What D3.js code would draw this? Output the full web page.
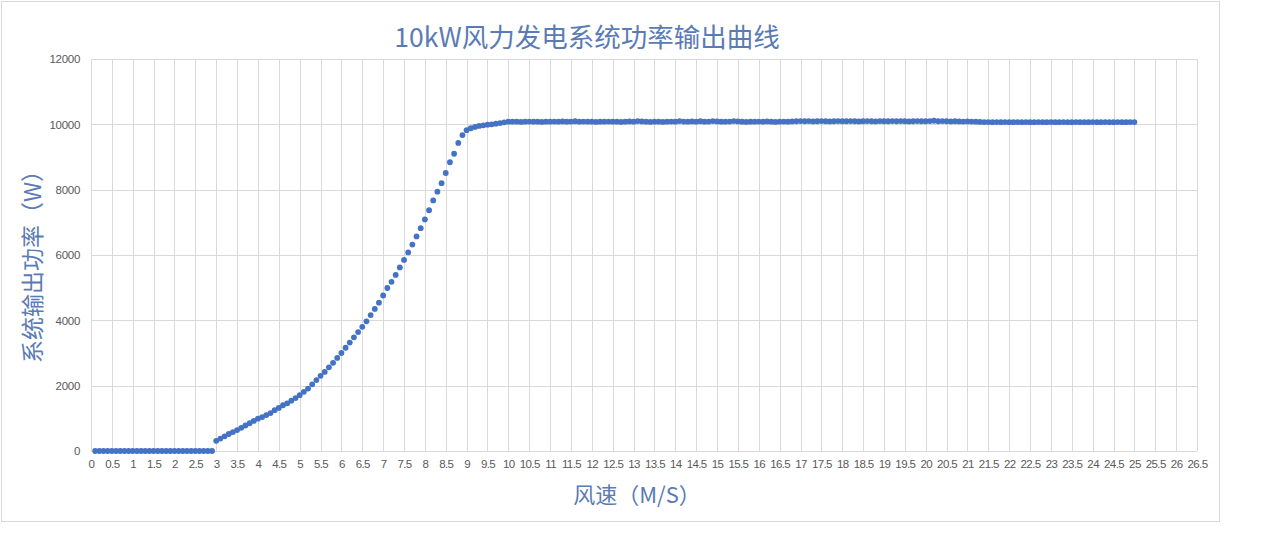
<!DOCTYPE html>
<html><head><meta charset="utf-8">
<script src="https://cdn.jsdelivr.net/npm/d3@7"></script>
<style>
html,body{margin:0;padding:0;background:#fff;}
svg{display:block;}
</style></head>
<body>
<svg id="chart" width="1267" height="551"></svg>
<script>
const titleText = "10kW风力发电系统功率输出曲线";
const xAxisTitle = "风速（M/S）";
const yAxisTitle = "系统输出功率（W）";

const windSpeed = [
0.1,0.2,0.3,0.4,0.5,0.6,0.7,0.8,0.9,1.0,
1.1,1.2,1.3,1.4,1.5,1.6,1.7,1.8,1.9,2.0,
2.1,2.2,2.3,2.4,2.5,2.6,2.7,2.8,2.9,3.0,
3.1,3.2,3.3,3.4,3.5,3.6,3.7,3.8,3.9,4.0,
4.1,4.2,4.3,4.4,4.5,4.6,4.7,4.8,4.9,5.0,
5.1,5.2,5.3,5.4,5.5,5.6,5.7,5.8,5.9,6.0,
6.1,6.2,6.3,6.4,6.5,6.6,6.7,6.8,6.9,7.0,
7.1,7.2,7.3,7.4,7.5,7.6,7.7,7.8,7.9,8.0,
8.1,8.2,8.3,8.4,8.5,8.6,8.7,8.8,8.9,9.0,
9.1,9.2,9.3,9.4,9.5,9.6,9.7,9.8,9.9,10.0,
10.1,10.2,10.3,10.4,10.5,10.6,10.7,10.8,10.9,11.0,
11.1,11.2,11.3,11.4,11.5,11.6,11.7,11.8,11.9,12.0,
12.1,12.2,12.3,12.4,12.5,12.6,12.7,12.8,12.9,13.0,
13.1,13.2,13.3,13.4,13.5,13.6,13.7,13.8,13.9,14.0,
14.1,14.2,14.3,14.4,14.5,14.6,14.7,14.8,14.9,15.0,
15.1,15.2,15.3,15.4,15.5,15.6,15.7,15.8,15.9,16.0,
16.1,16.2,16.3,16.4,16.5,16.6,16.7,16.8,16.9,17.0,
17.1,17.2,17.3,17.4,17.5,17.6,17.7,17.8,17.9,18.0,
18.1,18.2,18.3,18.4,18.5,18.6,18.7,18.8,18.9,19.0,
19.1,19.2,19.3,19.4,19.5,19.6,19.7,19.8,19.9,20.0,
20.1,20.2,20.3,20.4,20.5,20.6,20.7,20.8,20.9,21.0,
21.1,21.2,21.3,21.4,21.5,21.6,21.7,21.8,21.9,22.0,
22.1,22.2,22.3,22.4,22.5,22.6,22.7,22.8,22.9,23.0,
23.1,23.2,23.3,23.4,23.5,23.6,23.7,23.8,23.9,24.0,
24.1,24.2,24.3,24.4,24.5,24.6,24.7,24.8,24.9,25.0
];

const power = [
0,0,0,0,0,0,0,0,0,0,
0,0,0,0,0,0,0,0,0,0,
0,0,0,0,0,0,0,0,0,310,
380,450,520,580,640,710,780,850,920,990,
1040,1100,1160,1250,1320,1400,1460,1540,1620,1710,
1810,1910,2040,2170,2300,2420,2560,2700,2850,3000,
3160,3320,3480,3640,3800,3970,4160,4350,4540,4760,
4990,5180,5390,5620,5850,6080,6320,6570,6820,7090,
7370,7670,7940,8200,8510,8840,9100,9430,9670,9820,
9880,9920,9950,9970,9990,10000,10020,10040,10060,10080,
10080,10080,10075,10080,10085,10080,10080,10075,10080,10080,
10085,10080,10090,10080,10085,10095,10080,10085,10080,10080,
10075,10080,10080,10085,10080,10080,10075,10080,10090,10080,
10100,10090,10080,10075,10080,10080,10075,10080,10085,10080,
10100,10085,10080,10090,10080,10095,10080,10085,10100,10090,
10080,10080,10085,10100,10090,10080,10075,10080,10080,10085,
10080,10090,10080,10075,10080,10085,10080,10090,10095,10100,
10095,10100,10090,10095,10100,10095,10090,10095,10100,10095,
10095,10100,10095,10090,10095,10100,10095,10090,10100,10095,
10095,10100,10095,10100,10095,10090,10095,10100,10095,10095,
10100,10110,10095,10100,10095,10090,10095,10090,10085,10090,
10085,10080,10075,10070,10070,10065,10070,10065,10070,10065,
10065,10070,10065,10070,10065,10065,10070,10065,10065,10070,
10065,10065,10070,10065,10065,10070,10065,10065,10065,10070,
10065,10065,10070,10065,10065,10070,10065,10065,10070,10070
];

const xTicks = [0,0.5,1,1.5,2,2.5,3,3.5,4,4.5,5,5.5,6,6.5,7,7.5,8,8.5,9,9.5,10,10.5,11,11.5,12,12.5,13,13.5,14,14.5,15,15.5,16,16.5,17,17.5,18,18.5,19,19.5,20,20.5,21,21.5,22,22.5,23,23.5,24,24.5,25,25.5,26,26.5];
const yTicks = [0,2000,4000,6000,8000,10000,12000];

const svg = d3.select("#chart");
const margin = {left: 91, right: 1197, top: 59, bottom: 451};

// chart area border
svg.append("rect").attr("x",1.5).attr("y",1.5).attr("width",1218).attr("height",520)
  .attr("fill","#fff").attr("stroke","#d9d9d9").attr("stroke-width",1);

const x = d3.scaleLinear().domain([0, 26.5]).range([margin.left, margin.right]);
const y = d3.scaleLinear().domain([0, 12000]).range([margin.bottom, margin.top]);

// vertical gridlines
svg.append("g").selectAll("line").data(xTicks).join("line")
  .attr("x1", d => Math.round(x(d)) + 0.5).attr("x2", d => Math.round(x(d)) + 0.5)
  .attr("y1", margin.top).attr("y2", margin.bottom)
  .attr("stroke", "#d9d9d9").attr("stroke-width", 1);

// horizontal gridlines
svg.append("g").selectAll("line").data(yTicks).join("line")
  .attr("x1", margin.left).attr("x2", margin.right)
  .attr("y1", d => Math.round(y(d)) + 0.5).attr("y2", d => Math.round(y(d)) + 0.5)
  .attr("stroke", "#d9d9d9").attr("stroke-width", 1);

// axes (labels only)
const xAxis = d3.axisBottom(x).tickValues(xTicks).tickSize(0).tickPadding(9)
  .tickFormat(d => String(d));
const gx = svg.append("g").attr("transform", `translate(0,${margin.bottom})`).call(xAxis);
gx.select(".domain").remove();
gx.selectAll("text").attr("fill", "#595959").style("font-family", "'Liberation Sans', Arial, sans-serif")
  .style("font-size", "11.5px").style("letter-spacing", "-0.6px");

const yAxis = d3.axisLeft(y).tickValues(yTicks).tickSize(0).tickPadding(11)
  .tickFormat(d => String(d));
const gy = svg.append("g").attr("transform", `translate(${margin.left},0)`).call(yAxis);
gy.select(".domain").remove();
gy.selectAll("text").attr("fill", "#595959").style("font-family", "'Liberation Sans', Arial, sans-serif")
  .style("font-size", "11.5px").style("letter-spacing", "-0.3px");

// points
const pts = windSpeed.map((v, i) => ({v, p: power[i]}));
svg.append("g").selectAll("circle").data(pts).join("circle")
  .attr("cx", d => x(d.v)).attr("cy", d => y(d.p)).attr("r", 2.9)
  .attr("fill", "#4472C4");

// titles
const cjk = "'Noto Sans CJK SC', 'Noto Sans', sans-serif";
svg.append("text").attr("x", 587).attr("y", 35).attr("text-anchor", "middle")
  .attr("dominant-baseline", "central")
  .style("font-family", cjk).style("font-size", "26.5px").attr("fill", "#5A7BB5")
  .text(titleText);

svg.append("text").attr("x", 637).attr("y", 493).attr("text-anchor", "middle")
  .attr("dominant-baseline", "central")
  .style("font-family", cjk).style("font-size", "22px").attr("fill", "#5A7BB5")
  .text(xAxisTitle);

svg.append("text").attr("transform", "translate(31,261) rotate(-90)").attr("text-anchor", "middle")
  .attr("dominant-baseline", "central")
  .style("font-family", cjk).style("font-size", "23px").attr("fill", "#5A7BB5")
  .text(yAxisTitle);
</script>
</body></html>
